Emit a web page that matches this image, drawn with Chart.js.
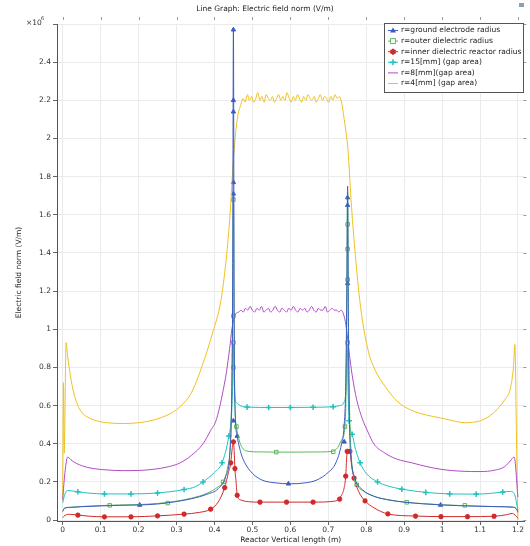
<!DOCTYPE html>
<html lang="en">
<head>
  <meta charset="UTF-8">
  <title>Line Graph: Electric field norm (V/m)</title>
  <script src="https://cdn.jsdelivr.net/npm/chart.js"></script>
  <style>
    html, body { margin: 0; padding: 0; background: #fff; }
  </style>
</head>
<body>
  <canvas id="graphique" width="530" height="546"></canvas>

  <script>
    // x en m, y en 10^6 V/m
    const xTicks = [0, 0.1, 0.2, 0.3, 0.4, 0.5, 0.6, 0.7, 0.8, 0.9, 1, 1.1, 1.2];
    const yTicks = [0, 0.2, 0.4, 0.6, 0.8, 1, 1.2, 1.4, 1.6, 1.8, 2, 2.2, 2.4, 2.6];

    const seriesNames = [
      "r=ground electrode radius",
      "r=outer dielectric radius",
      "r=inner dielectric reactor radius",
      "r=15[mm] (gap area)",
      "r=8[mm](gap area)",
      "r=4[mm] (gap area)"
    ];

    const ground = [[0,0.045],[0.005,0.062],[0.02,0.066],[0.05,0.07],[0.1,0.074],[0.15,0.077],[0.2,0.079],[0.25,0.084],[0.3,0.097],[0.34,0.112],[0.38,0.135],[0.41,0.165],[0.43,0.23],[0.44,0.34],[0.445,0.6],[0.448,1.2],[0.45,2.58],[0.452,1.0],[0.455,0.55],[0.46,0.44],[0.47,0.35],[0.48,0.3],[0.5,0.245],[0.525,0.21],[0.56,0.195],[0.6,0.19],[0.64,0.195],[0.67,0.21],[0.7,0.25],[0.72,0.3],[0.735,0.4],[0.742,0.5],[0.746,0.7],[0.749,1.2],[0.751,1.75],[0.753,1.0],[0.756,0.5],[0.76,0.33],[0.77,0.22],[0.79,0.16],[0.82,0.125],[0.86,0.105],[0.9,0.094],[0.95,0.085],[1.0,0.079],[1.05,0.075],[1.1,0.072],[1.15,0.07],[1.185,0.068],[1.195,0.06],[1.2,0.04]];
    const outer = [[0,0.045],[0.005,0.063],[0.02,0.067],[0.05,0.071],[0.1,0.076],[0.15,0.079],[0.2,0.081],[0.25,0.087],[0.3,0.099],[0.34,0.115],[0.38,0.14],[0.41,0.175],[0.423,0.2],[0.435,0.28],[0.442,0.4],[0.446,0.7],[0.448,1.1],[0.45,1.72],[0.452,1.0],[0.454,0.6],[0.458,0.49],[0.465,0.42],[0.473,0.38],[0.485,0.362],[0.52,0.357],[0.6,0.356],[0.68,0.357],[0.71,0.36],[0.725,0.38],[0.735,0.42],[0.744,0.49],[0.747,0.7],[0.749,1.2],[0.751,1.72],[0.753,1.1],[0.756,0.6],[0.76,0.36],[0.767,0.23],[0.775,0.185],[0.79,0.155],[0.82,0.125],[0.86,0.106],[0.9,0.094],[0.95,0.086],[1.0,0.08],[1.05,0.076],[1.1,0.073],[1.15,0.07],[1.185,0.067],[1.195,0.06],[1.2,0.045]];
    const inner = [[0,0.012],[0.006,0.025],[0.02,0.03],[0.04,0.026],[0.07,0.02],[0.11,0.017],[0.18,0.017],[0.25,0.022],[0.32,0.031],[0.36,0.04],[0.39,0.057],[0.41,0.095],[0.427,0.17],[0.437,0.25],[0.443,0.3],[0.447,0.38],[0.45,0.41],[0.452,0.36],[0.454,0.27],[0.457,0.2],[0.46,0.13],[0.47,0.105],[0.49,0.096],[0.52,0.094],[0.59,0.094],[0.66,0.094],[0.72,0.1],[0.735,0.13],[0.742,0.17],[0.746,0.23],[0.749,0.34],[0.752,0.37],[0.757,0.36],[0.762,0.28],[0.768,0.22],[0.78,0.15],[0.797,0.1],[0.82,0.065],[0.857,0.032],[0.93,0.021],[1.0,0.018],[1.067,0.018],[1.137,0.02],[1.17,0.028],[1.185,0.035],[1.2,0.01]];
    const gap15 = [[0,0.09],[0.005,0.13],[0.013,0.155],[0.04,0.148],[0.07,0.141],[0.11,0.137],[0.18,0.137],[0.25,0.142],[0.32,0.16],[0.35,0.175],[0.37,0.2],[0.4,0.25],[0.42,0.3],[0.438,0.44],[0.445,0.55],[0.448,0.7],[0.45,0.92],[0.452,0.72],[0.455,0.63],[0.46,0.612],[0.47,0.598],[0.486,0.592],[0.55,0.59],[0.6,0.59],[0.66,0.591],[0.713,0.594],[0.73,0.6],[0.742,0.62],[0.747,0.7],[0.75,0.92],[0.752,0.7],[0.755,0.52],[0.763,0.45],[0.772,0.37],[0.784,0.3],[0.8,0.245],[0.83,0.2],[0.86,0.177],[0.894,0.162],[0.957,0.145],[1.02,0.137],[1.09,0.136],[1.13,0.14],[1.16,0.147],[1.18,0.15],[1.19,0.14],[1.2,0.05]];
    const gap8 = [[0,0.11],[0.006,0.25],[0.013,0.33],[0.025,0.31],[0.05,0.285],[0.08,0.27],[0.12,0.262],[0.16,0.259],[0.2,0.26],[0.24,0.266],[0.28,0.28],[0.31,0.3],[0.34,0.34],[0.37,0.4],[0.39,0.47],[0.404,0.52],[0.42,0.65],[0.432,0.78],[0.44,0.9],[0.446,1.0],[0.452,1.06],[0.458,1.085],[0.464,1.09],[0.47,1.1],[0.476,1.09],[0.482,1.11],[0.488,1.1],[0.494,1.12],[0.5,1.1],[0.506,1.09],[0.512,1.11],[0.518,1.1],[0.524,1.12],[0.53,1.09],[0.536,1.1],[0.542,1.11],[0.548,1.09],[0.554,1.1],[0.56,1.12],[0.566,1.1],[0.572,1.09],[0.578,1.11],[0.584,1.1],[0.59,1.09],[0.596,1.11],[0.602,1.1],[0.608,1.12],[0.614,1.1],[0.62,1.09],[0.626,1.11],[0.632,1.1],[0.638,1.11],[0.644,1.09],[0.65,1.1],[0.656,1.12],[0.662,1.1],[0.668,1.09],[0.674,1.11],[0.68,1.1],[0.686,1.1],[0.692,1.12],[0.698,1.09],[0.704,1.1],[0.71,1.11],[0.716,1.1],[0.722,1.1],[0.728,1.09],[0.734,1.1],[0.74,1.08],[0.745,1.04],[0.75,0.97],[0.755,0.88],[0.763,0.76],[0.775,0.63],[0.79,0.53],[0.805,0.46],[0.82,0.4],[0.85,0.35],[0.88,0.32],[0.92,0.3],[0.96,0.28],[1.0,0.265],[1.05,0.256],[1.1,0.254],[1.14,0.262],[1.165,0.28],[1.18,0.31],[1.19,0.33],[1.2,0.12]];
    const gap4 = [[0,0.1],[0.002,0.72],[0.004,0.35],[0.009,0.93],[0.013,0.86],[0.02,0.76],[0.03,0.66],[0.04,0.6],[0.05,0.565],[0.07,0.535],[0.1,0.515],[0.13,0.508],[0.16,0.506],[0.2,0.51],[0.23,0.52],[0.26,0.537],[0.29,0.565],[0.31,0.595],[0.34,0.67],[0.373,0.84],[0.395,0.98],[0.417,1.15],[0.43,1.35],[0.44,1.57],[0.451,1.92],[0.46,2.1],[0.47,2.18],[0.476,2.21],[0.481,2.19],[0.487,2.23],[0.492,2.2],[0.498,2.22],[0.503,2.19],[0.509,2.21],[0.514,2.24],[0.52,2.2],[0.525,2.22],[0.531,2.19],[0.536,2.23],[0.542,2.21],[0.547,2.2],[0.553,2.22],[0.558,2.19],[0.564,2.21],[0.569,2.23],[0.575,2.2],[0.58,2.22],[0.586,2.2],[0.591,2.24],[0.597,2.21],[0.602,2.19],[0.608,2.22],[0.613,2.2],[0.619,2.23],[0.624,2.21],[0.63,2.19],[0.635,2.22],[0.641,2.2],[0.646,2.23],[0.652,2.21],[0.657,2.2],[0.663,2.22],[0.668,2.19],[0.674,2.21],[0.679,2.23],[0.685,2.2],[0.69,2.22],[0.696,2.21],[0.701,2.19],[0.707,2.22],[0.712,2.2],[0.718,2.23],[0.723,2.21],[0.729,2.22],[0.735,2.19],[0.742,2.1],[0.752,1.94],[0.76,1.68],[0.77,1.42],[0.785,1.12],[0.805,0.89],[0.825,0.78],[0.85,0.7],[0.883,0.62],[0.92,0.575],[0.96,0.55],[0.996,0.535],[1.03,0.52],[1.06,0.51],[1.1,0.52],[1.125,0.545],[1.145,0.58],[1.165,0.63],[1.18,0.69],[1.188,0.8],[1.192,0.92],[1.196,0.45],[1.2,0.0]];

    // positions des symboles le long des courbes
    const groundMarks = [[0.203,0.079],[0.45,2.57],[0.45,2.2],[0.45,2.14],[0.45,1.77],[0.45,1.71],[0.45,0.52],[0.46,0.44],[0.595,0.19],[0.742,0.41],[0.751,1.69],[0.751,1.65],[0.751,1.24],[0.996,0.079]];
    const outerMarks = [[0.124,0.077],[0.277,0.089],[0.423,0.2],[0.45,1.68],[0.45,1.07],[0.45,0.93],[0.45,0.8],[0.458,0.49],[0.563,0.356],[0.713,0.358],[0.744,0.49],[0.751,1.55],[0.751,1.42],[0.751,1.26],[0.751,0.93],[0.775,0.185],[0.907,0.093],[1.06,0.077]];
    const innerMarks = [[0.04,0.026],[0.11,0.017],[0.18,0.017],[0.25,0.022],[0.32,0.031],[0.39,0.057],[0.427,0.17],[0.443,0.3],[0.45,0.41],[0.454,0.27],[0.46,0.13],[0.52,0.094],[0.59,0.094],[0.66,0.094],[0.73,0.11],[0.746,0.23],[0.75,0.36],[0.757,0.36],[0.768,0.22],[0.797,0.1],[0.857,0.032],[0.93,0.021],[0.997,0.018],[1.067,0.018],[1.137,0.02]];
    const gap15Marks = [[0.04,0.148],[0.11,0.137],[0.18,0.137],[0.25,0.142],[0.32,0.16],[0.37,0.2],[0.42,0.3],[0.438,0.44],[0.486,0.592],[0.543,0.59],[0.6,0.59],[0.66,0.591],[0.713,0.594],[0.755,0.52],[0.763,0.45],[0.784,0.3],[0.83,0.2],[0.894,0.162],[0.957,0.145],[1.02,0.137],[1.09,0.136],[1.16,0.147]];

    const couleurs = ["#3b5cc4", "#5cb85c", "#d12a2a", "#22c1c1", "#b04cc4", "#f0c020"];
    const police = '"DejaVu Sans", sans-serif';
    const taille = 7.5;

    const toPts = arr => arr.map(p => ({ x: p[0], y: p[1] }));
    const fmt = v => String(Math.round(v * 10) / 10);

    function ligne(nom, pts, couleur) {
      return {
        label: nom, data: toPts(pts), borderColor: couleur, backgroundColor: couleur,
        borderWidth: 1, pointRadius: 0, fill: false, cubicInterpolationMode: "monotone"
      };
    }
    function symboles(pts, couleur, style, rayon, fond, epaisseur) {
      return {
        label: "", data: toPts(pts), showLine: false, pointStyle: style,
        pointRadius: rayon, borderColor: couleur, backgroundColor: fond, borderWidth: epaisseur
      };
    }

    function dessinerSymbole(ctx, style, x, y, couleur) {
      ctx.save();
      ctx.strokeStyle = couleur; ctx.fillStyle = couleur; ctx.lineWidth = 1;
      ctx.beginPath();
      if (style === "triangle") {
        ctx.moveTo(x, y - 3); ctx.lineTo(x + 3, y + 2); ctx.lineTo(x - 3, y + 2); ctx.closePath(); ctx.fill();
      } else if (style === "rect") {
        ctx.fillStyle = "#fff"; ctx.rect(x - 2.5, y - 2.5, 5, 5); ctx.fill(); ctx.stroke();
      } else if (style === "star") {
        ctx.lineWidth = 2;
        for (let i = 0; i < 3; i++) {
          const a = Math.PI / 2 + i * Math.PI / 3;
          ctx.moveTo(x + 3 * Math.cos(a), y - 3 * Math.sin(a));
          ctx.lineTo(x - 3 * Math.cos(a), y + 3 * Math.sin(a));
        }
        ctx.stroke();
      } else if (style === "cross") {
        ctx.lineWidth = 1.5;
        ctx.moveTo(x - 3, y); ctx.lineTo(x + 3, y); ctx.moveTo(x, y - 3); ctx.lineTo(x, y + 3); ctx.stroke();
      }
      ctx.restore();
    }

    const cadre = {
      id: "cadre",
      afterDraw(chart) {
        const { ctx, chartArea: a, scales: { x, y } } = chart;
        ctx.save();

        // petites graduations en haut et a droite
        ctx.strokeStyle = "#9a9a9a"; ctx.lineWidth = 1;
        ctx.beginPath();
        xTicks.forEach(v => {
          const px = Math.round(x.getPixelForValue(v)) + 0.5;
          ctx.moveTo(px, a.top - 7); ctx.lineTo(px, a.top - 4);
        });
        yTicks.forEach(v => {
          const py = Math.round(y.getPixelForValue(v)) + 0.5;
          ctx.moveTo(a.right - 1, py); ctx.lineTo(a.right + 2, py);
        });
        ctx.stroke();

        // titre
        ctx.fillStyle = "#222";
        ctx.font = taille + "px " + police;
        ctx.textAlign = "center"; ctx.textBaseline = "middle";
        ctx.fillText("Line Graph: Electric field norm (V/m)", 265, 9);

        // facteur d'echelle
        ctx.textAlign = "left";
        ctx.fillStyle = "#333";
        ctx.fillText("×10", 26, 23);
        ctx.font = "5px " + police;
        ctx.fillText("6", 41, 19);

        // legende
        const lx = 384, ly = 23, lw = 139, lh = 69;
        ctx.fillStyle = "#fff";
        ctx.fillRect(lx, ly, lw, lh);
        ctx.strokeStyle = "#555"; ctx.lineWidth = 1;
        ctx.strokeRect(lx + 0.5, ly + 0.5, lw, lh);
        const styles = ["triangle", "rect", "star", "cross", null, null];
        ctx.font = taille + "px " + police;
        ctx.textBaseline = "middle";
        seriesNames.forEach((nom, i) => {
          const ry = ly + 7.5 + i * 10.6;
          ctx.strokeStyle = couleurs[i]; ctx.lineWidth = 1;
          ctx.beginPath(); ctx.moveTo(lx + 4, ry); ctx.lineTo(lx + 14, ry); ctx.stroke();
          if (styles[i]) dessinerSymbole(ctx, styles[i], lx + 9, ry, couleurs[i]);
          ctx.fillStyle = "#222";
          ctx.fillText(nom, lx + 17, ry);
        });

        // petite icone en haut a droite
        ctx.fillStyle = "#8aa0b8";
        ctx.fillRect(519, 3, 5, 4);
        ctx.restore();
      }
    };

    const ctx = document.getElementById("graphique").getContext("2d");
    window.monGraphique = new Chart(ctx, {
      type: "line",
      data: {
        datasets: [
          ligne(seriesNames[0], ground, couleurs[0]),
          ligne(seriesNames[1], outer, couleurs[1]),
          ligne(seriesNames[2], inner, couleurs[2]),
          ligne(seriesNames[3], gap15, couleurs[3]),
          ligne(seriesNames[4], gap8, couleurs[4]),
          ligne(seriesNames[5], gap4, couleurs[5]),
          symboles(groundMarks, couleurs[0], "triangle", 2.5, couleurs[0], 1),
          symboles(outerMarks, couleurs[1], "rect", 2.5, "#ffffff", 1),
          symboles(innerMarks, couleurs[2], "star", 2.6, couleurs[2], 1.6),
          symboles(gap15Marks, couleurs[3], "cross", 2.8, couleurs[3], 1.5)
        ]
      },
      options: {
        responsive: false,
        animation: false,
        layout: { padding: { top: 24, right: 3, left: 0, bottom: 0 } },
        plugins: { legend: { display: false }, tooltip: { enabled: false } },
        scales: {
          x: {
            type: "linear", min: -0.015, max: 1.217,
            afterBuildTicks: s => { s.ticks = xTicks.map(v => ({ value: v })); },
            afterFit: s => { s.height = 25; },
            ticks: { callback: v => fmt(v), font: { size: taille, family: police }, color: "#333", padding: 1, maxRotation: 0, autoSkip: false },
            grid: { color: "#ebebeb", tickColor: "#666", tickLength: 4 },
            border: { color: "#555" },
            title: { display: true, text: "Reactor Vertical length (m)", font: { size: taille, family: police }, color: "#222", padding: { top: 0, bottom: 1 } }
          },
          y: {
            type: "linear", min: -0.005, max: 2.6,
            afterBuildTicks: s => { s.ticks = yTicks.map(v => ({ value: v })); },
            afterFit: s => { s.width = 57; },
            ticks: { callback: v => (v > 2.5 ? "" : fmt(v)), font: { size: taille, family: police }, color: "#333", padding: 2 },
            grid: { color: "#ebebeb", tickColor: "#666", tickLength: 4 },
            border: { color: "#555" },
            title: { display: true, text: "Electric field norm (V/m)", font: { size: taille, family: police }, color: "#222", padding: { top: 15, bottom: 0 } }
          }
        }
      },
      plugins: [cadre]
    });
  </script>
</body>
</html>
